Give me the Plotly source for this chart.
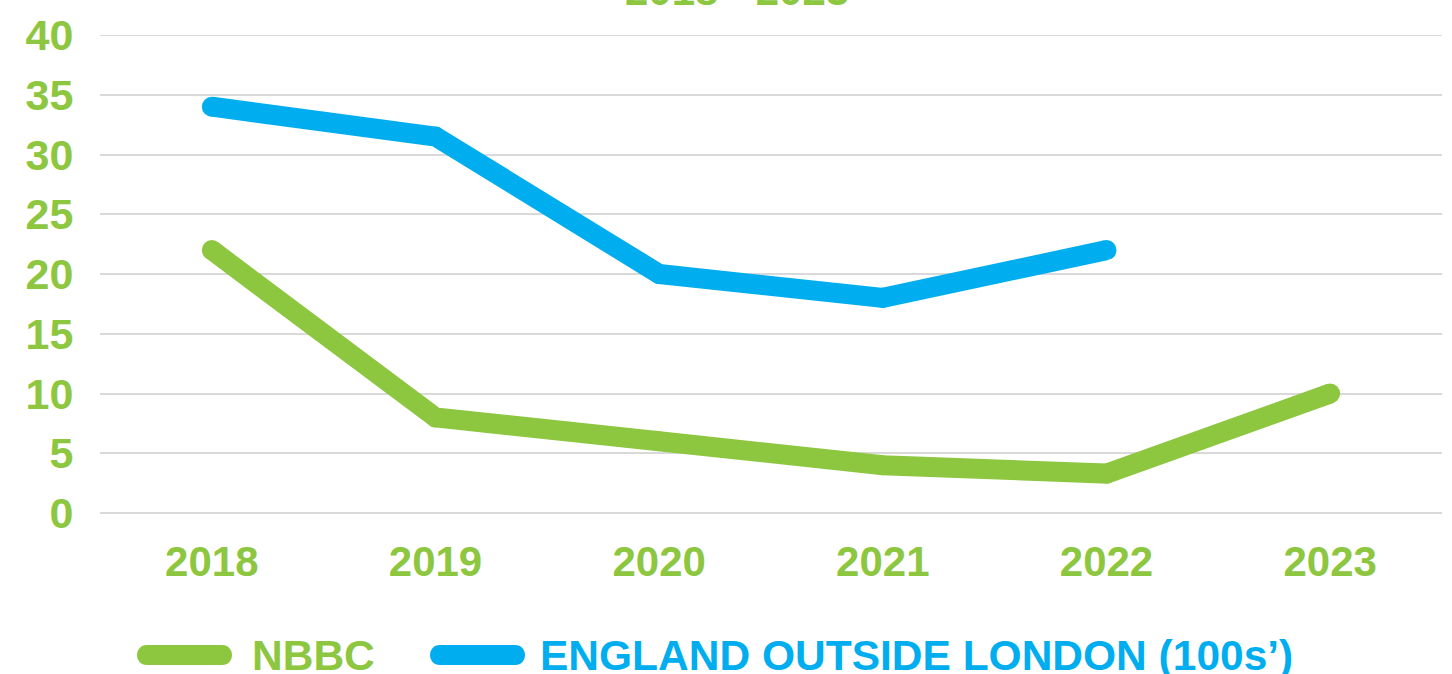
import plotly.graph_objects as go

years = ["2018", "2019", "2020", "2021", "2022", "2023"]
nbbc = [22, 8, 6, 4, 3.3, 10]
england = [34, 31.5, 20, 18, 22, None]
series_names = ["NBBC", "ENGLAND OUTSIDE LONDON (100s’)"]
title_text = "2018 - 2023"
y_ticks = [0, 5, 10, 15, 20, 25, 30, 35, 40]

GREEN = "#8DC63F"
BLUE = "#00AEEF"
GRID = "#d9d9d9"
FONT = "Liberation Sans, Arial, sans-serif"

W, H = 1452, 674
ML, MR, MT, MB = 100, 10, 35, 161
PW = W - ML - MR
PH = H - MT - MB

fig = go.Figure()
for vals, col in [(nbbc, GREEN), (england, BLUE)]:
    fig.add_trace(go.Scatter(
        x=years, y=vals, mode="lines+markers",
        line=dict(color=col, width=20),
        marker=dict(color=col, size=20),
        showlegend=False, hoverinfo="skip", connectgaps=False,
    ))

def px_to_paper_x(px):
    return (px - ML) / PW

def px_to_paper_y(py):
    return (H - MB - py) / PH

legend_y = 655
swatches = [(137, 232, 250, GREEN, series_names[0]), (430, 525, 538, BLUE, series_names[1])]
shapes = [dict(type="line", xref="paper", yref="y", x0=0, x1=1,
               y0=y_ticks[-1], y1=y_ticks[-1], line=dict(color=GRID, width=2), layer="below")]
annotations = []
for x0, x1, tx, col, name in swatches:
    cx = (x0 + x1) / 2
    hw = (x1 - x0) / 2 - 10
    k = 13.3
    path = (f"M {-hw},-10 L {hw},-10 C {hw + k},-10 {hw + k},10 {hw},10 "
            f"L {-hw},10 C {-hw - k},10 {-hw - k},-10 {-hw},-10 Z")
    shapes.append(dict(type="path", xref="paper", yref="paper",
                       xsizemode="pixel", ysizemode="pixel",
                       xanchor=px_to_paper_x(cx), yanchor=px_to_paper_y(legend_y),
                       path=path, fillcolor=col, line=dict(width=0)))
    annotations.append(dict(text=name, xref="paper", yref="paper",
                            x=px_to_paper_x(tx), y=px_to_paper_y(legend_y),
                            xanchor="left", yanchor="middle", showarrow=False,
                            font=dict(family=FONT, size=42.5, color=col, weight="bold")))

annotations.append(dict(text=title_text, xref="paper", yref="paper",
                        x=px_to_paper_x(737), y=1, xanchor="center", yanchor="bottom",
                        yshift=19, showarrow=False,
                        font=dict(family=FONT, size=42, color=GREEN, weight="bold")))

fig.update_layout(
    width=W, height=H,
    margin=dict(l=ML, r=MR, t=MT, b=MB, autoexpand=False),
    paper_bgcolor="white", plot_bgcolor="white",
    shapes=shapes, annotations=annotations,
    font=dict(family=FONT),
)
fig.update_xaxes(
    type="category", range=[-0.5, 5.5], showgrid=False, showline=False, zeroline=False,
    automargin=False,
    tickfont=dict(family=FONT, size=42, color=GREEN, weight="bold"),
    ticks="outside", ticklen=12, tickcolor="rgba(0,0,0,0)",
)
fig.update_yaxes(
    range=[0, 40], tickvals=y_ticks, showgrid=True, gridcolor=GRID, gridwidth=2,
    zeroline=True, zerolinecolor=GRID, zerolinewidth=2, showline=False,
    automargin=False,
    tickfont=dict(family=FONT, size=43, color=GREEN, weight="bold"),
    ticks="outside", ticklen=17, tickcolor="rgba(0,0,0,0)",
)

fig.write_html("out.html", config={"displayModeBar": False},
               post_script="document.body.style.margin='0';document.body.style.overflow='hidden';")
